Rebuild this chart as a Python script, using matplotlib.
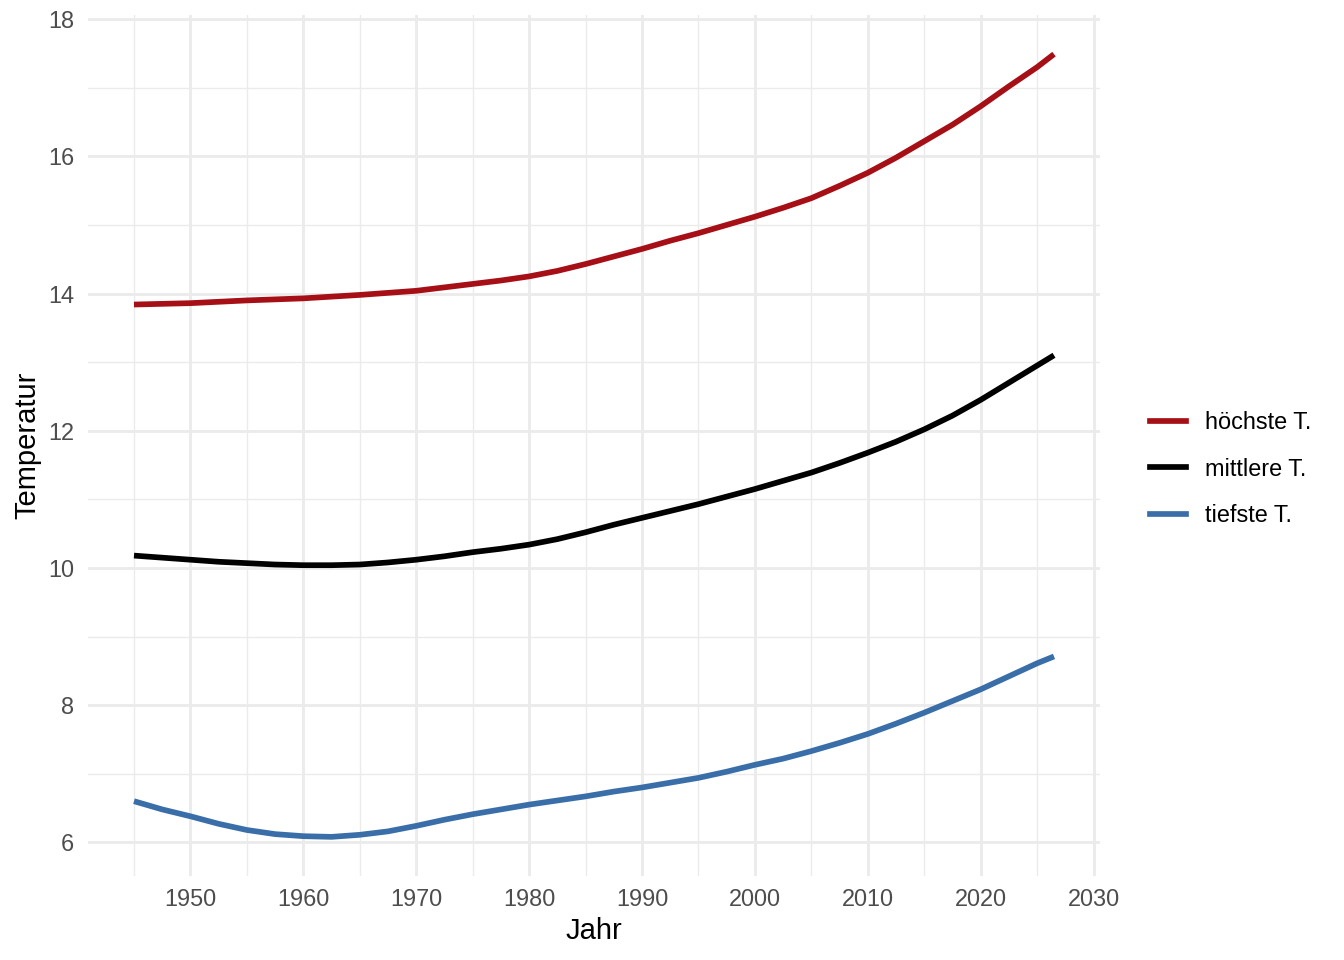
import matplotlib
matplotlib.use("Agg")
import matplotlib.pyplot as plt
from matplotlib.lines import Line2D
from matplotlib.ticker import MultipleLocator

# Werte (geglaettete Kurven, alle 2.5 Jahre)
jahre = [1945, 1947.5, 1950, 1952.5, 1955, 1957.5, 1960, 1962.5, 1965, 1967.5,
         1970, 1972.5, 1975, 1977.5, 1980, 1982.5, 1985, 1987.5, 1990, 1992.5,
         1995, 1997.5, 2000, 2002.5, 2005, 2007.5, 2010, 2012.5, 2015, 2017.5,
         2020, 2022.5, 2025, 2026.5]
hoechste = [13.84, 13.85, 13.86, 13.88, 13.90, 13.915, 13.93, 13.955, 13.98, 14.01,
            14.04, 14.09, 14.14, 14.19, 14.25, 14.33, 14.43, 14.54, 14.65, 14.77,
            14.88, 15.00, 15.12, 15.25, 15.39, 15.57, 15.76, 15.98, 16.22, 16.46,
            16.73, 17.02, 17.30, 17.49]
mittlere = [10.18, 10.15, 10.12, 10.09, 10.07, 10.05, 10.04, 10.04, 10.05, 10.08,
            10.12, 10.17, 10.23, 10.28, 10.34, 10.42, 10.52, 10.63, 10.73, 10.83,
            10.93, 11.04, 11.15, 11.27, 11.39, 11.53, 11.68, 11.84, 12.02, 12.22,
            12.45, 12.70, 12.95, 13.10]
tiefste = [6.60, 6.48, 6.38, 6.27, 6.18, 6.12, 6.09, 6.08, 6.11, 6.16,
           6.24, 6.33, 6.41, 6.48, 6.55, 6.61, 6.67, 6.74, 6.80, 6.87,
           6.94, 7.03, 7.13, 7.22, 7.33, 7.45, 7.58, 7.73, 7.89, 8.06,
           8.23, 8.42, 8.61, 8.71]

labels = ["höchste T.", "mittlere T.", "tiefste T."]
colors = ["#A50F15", "#000000", "#3A6EA8"]

plt.rcParams["font.family"] = ["Liberation Sans", "DejaVu Sans"]

fig = plt.figure(figsize=(13.44, 9.6), dpi=100)
ax = fig.add_axes([88 / 1344, 1 - 876 / 960, (1100 - 88) / 1344, (876 - 15) / 960])

for werte, col in zip([hoechste, mittlere, tiefste], colors):
    ax.plot(jahre, werte, color=col, lw=4.1, solid_capstyle="butt",
            solid_joinstyle="round", zorder=3)

# ggplot-artige Achsen (5% Erweiterung)
x_min, x_max = min(jahre), max(jahre)
x_pad = (x_max - x_min) * 0.05
ax.set_xlim(x_min - x_pad, x_max + x_pad)
y_all = hoechste + mittlere + tiefste
y_pad = (max(y_all) - min(y_all)) * 0.05
ax.set_ylim(min(y_all) - y_pad, max(y_all) + y_pad)

ax.xaxis.set_major_locator(MultipleLocator(10))
ax.xaxis.set_minor_locator(MultipleLocator(5))
ax.yaxis.set_major_locator(MultipleLocator(2))
ax.yaxis.set_minor_locator(MultipleLocator(1))

ax.grid(which="major", color="#EBEBEB", lw=2.05)
ax.grid(which="minor", color="#EBEBEB", lw=1.0)
ax.set_axisbelow(True)
for s in ax.spines.values():
    s.set_visible(False)
ax.tick_params(which="both", length=0)
ax.tick_params(axis="both", labelsize=16.9, labelcolor="#4D4D4D")
ax.tick_params(axis="x", pad=9)
ax.tick_params(axis="y", pad=10)

ax.set_xlabel("Jahr", fontsize=21, labelpad=4)
ax.set_ylabel("Temperatur", fontsize=21, labelpad=5)

handles = [Line2D([0], [0], color=c, lw=4.1) for c in colors]
fig.legend(handles, labels, loc="center left", bbox_to_anchor=(1150 / 1344, 1 - 469 / 960),
           frameon=False, fontsize=16.9, handlelength=1.55, handletextpad=0.8,
           labelspacing=1.0, borderaxespad=0, borderpad=0)

fig.savefig("out.png", dpi=100, facecolor="white")
